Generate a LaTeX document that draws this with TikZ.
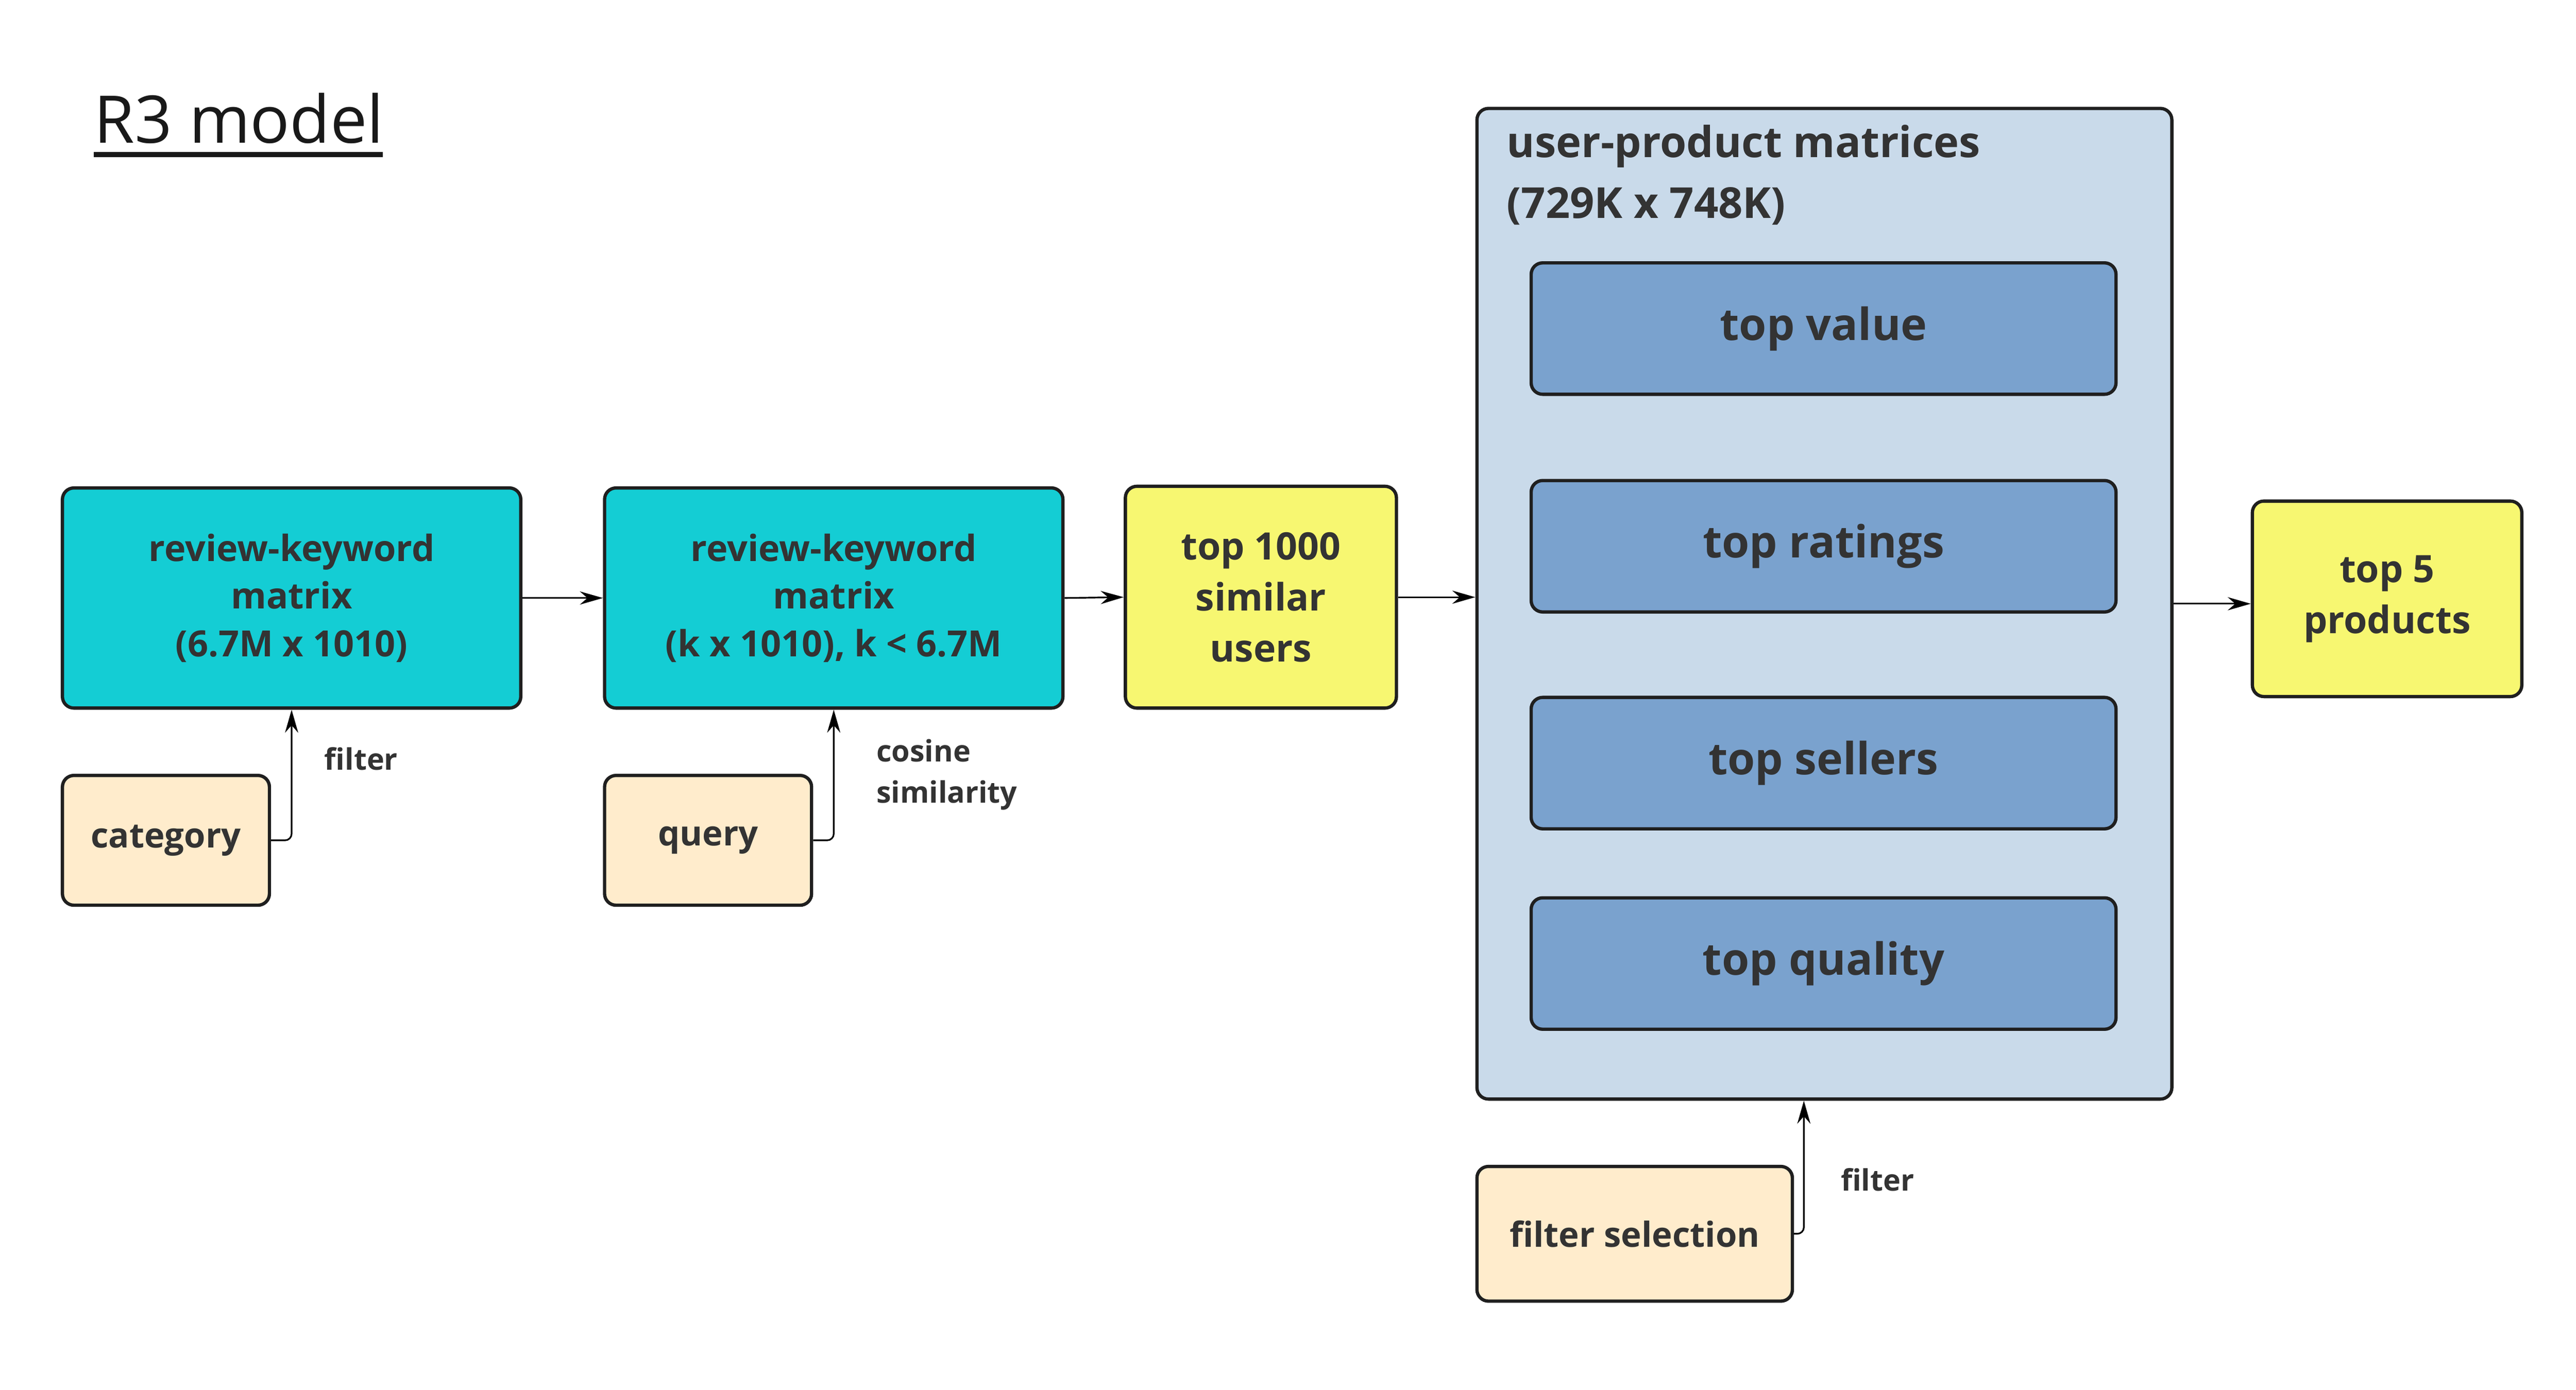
\documentclass[tikz,border=0pt]{standalone}
\usepackage{fontspec}
\setmainfont{Open Sans}
\usetikzlibrary{arrows.meta}
\definecolor{tealbox}{RGB}{20,205,212}
\definecolor{yellowbox}{RGB}{247,247,113}
\definecolor{creambox}{RGB}{255,236,204}
\definecolor{outerbox}{RGB}{201,218,234}
\definecolor{innerbox}{RGB}{122,162,206}
\definecolor{boxtext}{RGB}{51,51,51}
\tikzset{
  basebox/.style={draw=black!88, line width=2pt, rounded corners=7pt, align=center,
    text=boxtext, inner sep=0pt, font=\bfseries\fontsize{22}{29}\selectfont},
  matbox/.style={basebox, fill=tealbox, minimum width=279pt, minimum height=134pt},
  resbox/.style={basebox, fill=yellowbox, font=\bfseries\fontsize{23}{31}\selectfont},
  inbox/.style={basebox, fill=creambox, minimum width=126pt, minimum height=79pt,
    font=\bfseries\fontsize{21}{27}\selectfont},
  topbox/.style={basebox, fill=innerbox, minimum width=356pt, minimum height=80pt,
    font=\bfseries\fontsize{27}{33}\selectfont},
  arr/.style={-{Stealth[length=14pt,width=8pt]}, line width=1pt},
  note/.style={text=boxtext, align=left, anchor=west, font=\bfseries\fontsize{18}{25}\selectfont}
}
\begin{document}
\begin{tikzpicture}[x=1pt,y=-1pt]
\useasboundingbox (0,0) rectangle (1568,846);
% title
\node[anchor=base west, inner sep=0pt, text=black!90, font=\fontsize{40}{48}\selectfont] (title) at (57,87) {R3 model};
\draw[line width=3pt, black!90] (57,94) -- (233,94);

% review-keyword matrices
\node[matbox] (rk1) at (177.5,364) {review-keyword\\matrix\\(6.7M x 1010)};
\node[matbox] (rk2) at (507.5,364) {review-keyword\\matrix\\(k x 1010), k < 6.7M};
\node[resbox, minimum width=165pt, minimum height=135pt] (sim) at (767.5,363.5) {top 1000\\similar\\users};

% inputs
\node[inbox] (cat) at (101,511.5) {category};
\node[inbox] (qry) at (431,511.5) {query};

% user-product matrices
\node[basebox, fill=outerbox, minimum width=423pt, minimum height=603pt] (upm) at (1110.5,367.5) {};
\node[anchor=north west, inner sep=0pt, align=left, text=boxtext,
  font=\bfseries\fontsize{26}{37}\selectfont] (upmtitle) at (917,76) {user-product matrices\\(729K x 748K)};
\node[topbox] (tv) at (1110,200) {top value};
\node[topbox] (tr) at (1110,332.5) {top ratings};
\node[topbox] (ts) at (1110,464.5) {top sellers};
\node[topbox] (tq) at (1110,586.5) {top quality};

\node[inbox, minimum width=192pt, minimum height=82pt] (fsel) at (995,751) {filter selection};
\node[resbox, minimum width=164pt, minimum height=119pt] (top5) at (1453,364.5) {top 5\\products};

% connectors
\draw[arr] (rk1.east) -- (rk2.west);
\draw[arr] (rk2.east) -- (sim.west);
\draw[arr] (sim.east) -- (upm.west |- sim.east);
\draw[arr] (upm.east) -- (top5.west |- upm.east);
\draw[arr, rounded corners=4pt] (cat.east) -| (rk1.south);
\draw[arr, rounded corners=4pt] (qry.east) -| (rk2.south);
\draw[arr, rounded corners=4pt] (fsel.east) -| (upm.south -| 1098,0);

% labels
\node[note] (lfilter1) at (194,462) {filter};
\node[note] (lcosine) at (530,471.5) {cosine\\similarity};
\node[note] (lfilter2) at (1117,718) {filter};
\end{tikzpicture}
\end{document}
